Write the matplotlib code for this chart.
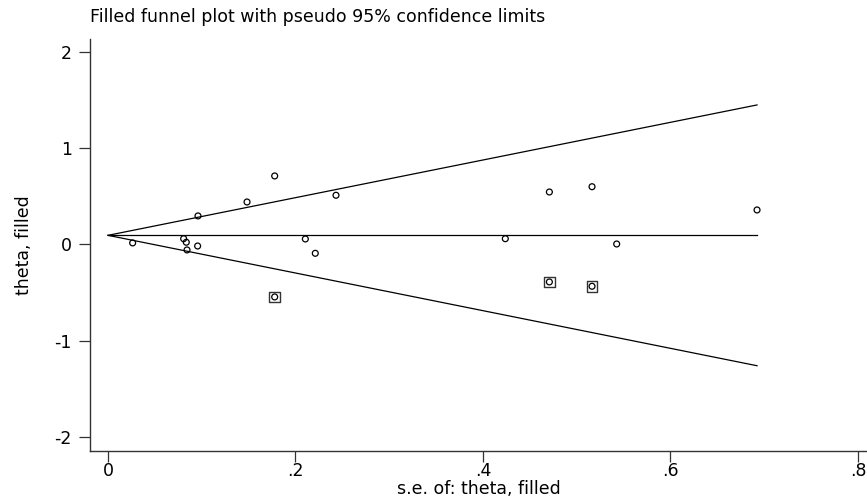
import numpy as np
import matplotlib
matplotlib.use("Agg")
import matplotlib.pyplot as plt

plt.rcParams['font.family'] = ['DejaVu Sans']

# observed studies
se_obs = [0.0263, 0.0807, 0.0835, 0.0843, 0.0956, 0.0960, 0.1483, 0.1778,
          0.2105, 0.2211, 0.2432, 0.4238, 0.4708, 0.5163, 0.5426, 0.6923]
theta_obs = [0.016, 0.060, 0.023, -0.057, -0.016, 0.297, 0.442, 0.713,
             0.057, -0.092, 0.512, 0.060, 0.546, 0.601, 0.005, 0.359]
# filled (imputed) studies
se_fill = [0.1778, 0.4708, 0.5163]
theta_fill = [-0.546, -0.390, -0.435]

theta_pooled = 0.095
se_max = 0.6923

xticks = [0, 0.2, 0.4, 0.6, 0.8]
xticklabels = ["0", ".2", ".4", ".6", ".8"]
yticks = [-2, -1, 0, 1, 2]
yticklabels = ["-2", "-1", "0", "1", "2"]

FS = 12.5

fig = plt.figure(figsize=(8.67, 4.97), dpi=100)
ax = fig.add_axes([0.1038, 0.0932, 0.8962, 0.8283])

se_line = np.array([0.0, se_max])
ax.plot(se_line, theta_pooled + 1.96 * se_line, color='black', lw=0.9)
ax.plot(se_line, theta_pooled - 1.96 * se_line, color='black', lw=0.9)
ax.plot(se_line, [theta_pooled, theta_pooled], color='black', lw=0.9)

all_se = se_obs + se_fill
all_theta = theta_obs + theta_fill
ax.scatter(se_fill, theta_fill, marker='s', s=60, facecolors='none',
           edgecolors='#333333', linewidths=1.0, zorder=3)
ax.scatter(all_se, all_theta, marker='o', s=18, facecolors='none',
           edgecolors='black', linewidths=0.9, zorder=4)

ax.set_xlim(-0.0192, 0.8096)
ax.set_ylim(-2.146, 2.138)
ax.set_xticks(xticks)
ax.set_xticklabels(xticklabels)
ax.set_yticks(yticks)
ax.set_yticklabels(yticklabels)
ax.tick_params(axis='both', direction='out', length=8, width=0.9,
               labelsize=FS, color='#333333')
ax.tick_params(axis='y', pad=5)
ax.tick_params(axis='x', pad=0)

for s in ['top', 'right']:
    ax.spines[s].set_visible(False)
for s in ['left', 'bottom']:
    ax.spines[s].set_linewidth(1.0)
    ax.spines[s].set_color('#333333')

ax.set_xlabel("s.e. of: theta, filled", fontsize=FS)
ax.xaxis.set_label_coords(0.5, -0.093)
ax.xaxis.label.set_verticalalignment('center')
ax.set_ylabel("theta, filled", fontsize=FS)
ax.yaxis.set_label_coords(-0.085, 0.5)
ax.yaxis.label.set_verticalalignment('center')
fig.text(0.1038, 0.966, "Filled funnel plot with pseudo 95% confidence limits",
         fontsize=FS, ha='left', va='center')

fig.savefig("out.png", dpi=100)
